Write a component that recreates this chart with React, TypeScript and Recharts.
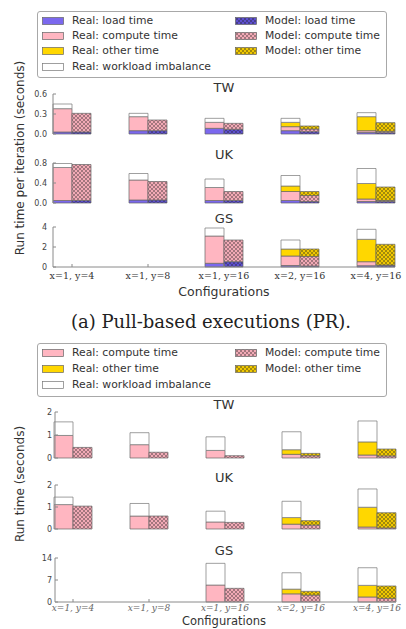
import React from "react";
import { Bar, BarChart, XAxis, YAxis } from "recharts";

const configs = ["x=1, y=4", "x=1, y=8", "x=1, y=16", "x=2, y=16", "x=4, y=16"];

// (a) pull-based executions, seconds per iteration
const twPullRealLoad = [0.03, 0.05, 0.085, 0.05, 0.025];
const twPullRealCompute = [0.35, 0.21, 0.09, 0.06, 0.025];
const twPullRealOther = [0, 0, 0, 0.065, 0.21];
const twPullRealImbalance = [0.07, 0.05, 0.06, 0.06, 0.06];
const twPullModelLoad = [0.03, 0.05, 0.07, 0.035, 0.02];
const twPullModelCompute = [0.28, 0.16, 0.09, 0.04, 0.02];
const twPullModelOther = [0, 0, 0, 0.045, 0.13];

const ukPullRealLoad = [0.05, 0.06, 0.05, 0.05, 0.03];
const ukPullRealCompute = [0.66, 0.4, 0.26, 0.18, 0.05];
const ukPullRealOther = [0, 0, 0, 0.11, 0.31];
const ukPullRealImbalance = [0.08, 0.13, 0.17, 0.21, 0.3];
const ukPullModelLoad = [0.05, 0.06, 0.05, 0.03, 0.03];
const ukPullModelCompute = [0.72, 0.37, 0.18, 0.12, 0.02];
const ukPullModelOther = [0, 0, 0, 0.08, 0.27];

const gsPullRealLoad = [0, 0, 0.37, 0.15, 0.13];
const gsPullRealCompute = [0, 0, 2.73, 0.95, 0.4];
const gsPullRealOther = [0, 0, 0, 0.7, 2.24];
const gsPullRealImbalance = [0, 0, 0.8, 0.9, 1.0];
const gsPullModelLoad = [0, 0, 0.53, 0.1, 0.15];
const gsPullModelCompute = [0, 0, 2.17, 0.95, 0.05];
const gsPullModelOther = [0, 0, 0, 0.75, 2.07];

// (b) push-based executions, seconds
const twPushRealCompute = [0.98, 0.58, 0.33, 0.16, 0.13];
const twPushRealOther = [0, 0, 0, 0.2, 0.57];
const twPushRealImbalance = [0.59, 0.52, 0.59, 0.78, 0.91];
const twPushModelCompute = [0.46, 0.25, 0.1, 0.1, 0.09];
const twPushModelOther = [0, 0, 0, 0.1, 0.3];

const ukPushRealCompute = [1.11, 0.59, 0.32, 0.22, 0.09];
const ukPushRealOther = [0, 0, 0, 0.3, 0.9];
const ukPushRealImbalance = [0.34, 0.57, 0.49, 0.74, 0.83];
const ukPushModelCompute = [1.04, 0.59, 0.3, 0.18, 0.05];
const ukPushModelOther = [0, 0, 0, 0.2, 0.69];

const gsPushRealCompute = [0, 0, 5.4, 2.6, 1.6];
const gsPushRealOther = [0, 0, 0, 1.5, 3.7];
const gsPushRealImbalance = [0, 0, 6.9, 5.2, 5.6];
const gsPushModelCompute = [0, 0, 4.35, 2.2, 1.15];
const gsPushModelOther = [0, 0, 0, 1.2, 3.95];

const zeros = configs.map(() => 0);

function makeRows(
  rl: number[], rc: number[], ro: number[], ri: number[],
  ml: number[], mc: number[], mo: number[]
) {
  return configs.map((name, i) => ({
    name, rl: rl[i], rc: rc[i], ro: ro[i], ri: ri[i], ml: ml[i], mc: mc[i], mo: mo[i],
  }));
}

const frame = "#8a8a8a";
const edge = "#666";
const sans = "'DejaVu Sans', sans-serif";
const serif = "'DejaVu Serif', serif";

const colors = {
  load: "#7b68ee",
  compute: "#ffb6c1",
  other: "#ffd700",
};

function Patterns() {
  const hatch = (id: string, base: string) => (
    <pattern id={id} width={4} height={4} patternUnits="userSpaceOnUse">
      <rect width={4} height={4} fill={base} />
      <path d="M0,0 L4,4 M4,0 L0,4" stroke="#222" strokeWidth={0.7} strokeOpacity={0.55} />
    </pattern>
  );
  return (
    <svg width={0} height={0} style={{ position: "absolute" }}>
      <defs>
        {hatch("hLoad", "#5d4fd0")}
        {hatch("hCompute", "#f2aab6")}
        {hatch("hOther", "#f0c800")}
      </defs>
    </svg>
  );
}

type PanelProps = {
  top: number;
  height: number;
  left: number;
  right: number;
  max: number;
  ticks: number[];
  data: ReturnType<typeof makeRows>;
  fmt: (v: number) => string;
  labels?: boolean;
  italic?: boolean;
  pad: { left: number; right: number };
};

function Panel({ top, height, left, right, max, ticks, data, fmt, labels, italic, pad }: PanelProps) {
  const mt = 6;
  const xh = labels ? 20 : 0;
  const mb = labels ? 1 : 6;
  const barProps = { isAnimationActive: false, stroke: edge, strokeWidth: 0.7 };
  return (
    <div style={{ position: "absolute", left: 0, top: top - mt }}>
      <BarChart
        width={406}
        height={mt + height + xh + mb}
        data={data}
        margin={{ top: mt, right: 406 - right, bottom: mb, left: 0 }}
        barGap={0}
        barSize={19}
      >
        <XAxis
          dataKey="name"
          padding={pad}
          height={xh}
          interval={0}
          axisLine={{ stroke: frame }}
          tickLine={{ stroke: frame }}
          tickSize={-3}
          tickMargin={italic ? 6 : 8}
          tick={
            labels
              ? { fontSize: italic ? 9 : 9.5, fontFamily: serif, fill: italic ? "#666" : "#333", fontStyle: italic ? "italic" : "normal" }
              : false
          }
        />
        <XAxis
          xAxisId="top"
          orientation="top"
          dataKey="name"
          padding={pad}
          height={0}
          interval={0}
          tick={false}
          tickSize={-3}
          axisLine={{ stroke: frame }}
          tickLine={{ stroke: frame }}
        />
        <YAxis
          domain={[0, max]}
          ticks={ticks}
          width={left}
          interval={0}
          tickFormatter={fmt}
          tickSize={-3}
          tickMargin={left > 53 ? 6 : 9}
          axisLine={{ stroke: frame }}
          tickLine={{ stroke: frame }}
          tick={{ fontSize: 8, fontFamily: sans, fill: "#444" }}
        />
        <YAxis
          yAxisId="right"
          orientation="right"
          domain={[0, max]}
          ticks={ticks}
          width={0}
          tick={false}
          tickSize={-3}
          axisLine={{ stroke: frame }}
          tickLine={{ stroke: frame }}
        />
        <Bar dataKey="rl" stackId="real" fill={colors.load} {...barProps} />
        <Bar dataKey="rc" stackId="real" fill={colors.compute} {...barProps} />
        <Bar dataKey="ro" stackId="real" fill={colors.other} {...barProps} />
        <Bar dataKey="ri" stackId="real" fill="#ffffff" {...barProps} stroke="#777" />
        <Bar dataKey="ml" stackId="model" fill="url(#hLoad)" {...barProps} />
        <Bar dataKey="mc" stackId="model" fill="url(#hCompute)" {...barProps} />
        <Bar dataKey="mo" stackId="model" fill="url(#hOther)" {...barProps} />
      </BarChart>
    </div>
  );
}

function Txt({ x, y, size, rotate, style, children }: any) {
  return (
    <div
      style={{
        position: "absolute",
        left: x,
        top: y,
        transform: `translate(-50%, -50%)${rotate ? " rotate(-90deg)" : ""}`,
        fontSize: size,
        fontFamily: sans,
        color: "#333",
        whiteSpace: "nowrap",
        lineHeight: 1,
        ...style,
      }}
    >
      {children}
    </div>
  );
}

type Entry = { label: string; fill: string; col: number; row: number; stroke?: string };

function LegendBox({ top, height, rowY, entries }: { top: number; height: number; rowY: number[]; entries: Entry[] }) {
  return (
    <>
      <div
        style={{
          position: "absolute",
          left: 37,
          top,
          width: 350,
          height,
          border: "1px solid #a8a8a8",
          borderRadius: 3,
          boxSizing: "border-box",
        }}
      />
      {entries.map((e) => {
        const sx = e.col === 0 ? 42 : 235;
        const tx = e.col === 0 ? 72 : 265;
        const y = rowY[e.row];
        return (
          <React.Fragment key={e.label}>
            <svg style={{ position: "absolute", left: sx, top: y - 4 }} width={22} height={8}>
              <rect x={0.5} y={0.5} width={21} height={7} fill={e.fill} stroke={e.stroke ?? edge} strokeWidth={0.7} />
            </svg>
            <div
              style={{
                position: "absolute",
                left: tx,
                top: y,
                transform: "translateY(-50%)",
                fontSize: 10.8,
                fontFamily: sans,
                color: "#333",
                whiteSpace: "nowrap",
                lineHeight: 1,
              }}
            >
              {e.label}
            </div>
          </React.Fragment>
        );
      })}
    </>
  );
}

const pullEntries: Entry[] = [
  { label: "Real: load time", fill: colors.load, col: 0, row: 0 },
  { label: "Model: load time", fill: "url(#hLoad)", col: 1, row: 0 },
  { label: "Real: compute time", fill: colors.compute, col: 0, row: 1 },
  { label: "Model: compute time", fill: "url(#hCompute)", col: 1, row: 1 },
  { label: "Real: other time", fill: colors.other, col: 0, row: 2 },
  { label: "Model: other time", fill: "url(#hOther)", col: 1, row: 2 },
  { label: "Real: workload imbalance", fill: "#ffffff", col: 0, row: 3, stroke: "#777" },
];

const pushEntries: Entry[] = [
  { label: "Real: compute time", fill: colors.compute, col: 0, row: 0 },
  { label: "Model: compute time", fill: "url(#hCompute)", col: 1, row: 0 },
  { label: "Real: other time", fill: colors.other, col: 0, row: 1 },
  { label: "Model: other time", fill: "url(#hOther)", col: 1, row: 1 },
  { label: "Real: workload imbalance", fill: "#ffffff", col: 0, row: 2, stroke: "#777" },
];

const f1 = (v: number) => v.toFixed(1);
const f0 = (v: number) => String(v);

export default function App() {
  const twPull = makeRows(twPullRealLoad, twPullRealCompute, twPullRealOther, twPullRealImbalance, twPullModelLoad, twPullModelCompute, twPullModelOther);
  const ukPull = makeRows(ukPullRealLoad, ukPullRealCompute, ukPullRealOther, ukPullRealImbalance, ukPullModelLoad, ukPullModelCompute, ukPullModelOther);
  const gsPull = makeRows(gsPullRealLoad, gsPullRealCompute, gsPullRealOther, gsPullRealImbalance, gsPullModelLoad, gsPullModelCompute, gsPullModelOther);
  const twPush = makeRows(zeros, twPushRealCompute, twPushRealOther, twPushRealImbalance, zeros, twPushModelCompute, twPushModelOther);
  const ukPush = makeRows(zeros, ukPushRealCompute, ukPushRealOther, ukPushRealImbalance, zeros, ukPushModelCompute, ukPushModelOther);
  const gsPush = makeRows(zeros, gsPushRealCompute, gsPushRealOther, gsPushRealImbalance, zeros, gsPushModelCompute, gsPushModelOther);

  const padA = { left: -19, right: -19 };
  const padB = { left: -20, right: -19 };

  return (
    <div style={{ position: "absolute", left: 0, top: 0, width: 406, height: 629, background: "#fff", overflow: "hidden" }}>
      <Patterns />

      {/* (a) pull-based */}
      <LegendBox top={11} height={67} rowY={[20.5, 35.5, 51, 66.5]} entries={pullEntries} />
      <Txt x={224} y={87} size={13}>TW</Txt>
      <Panel top={94} height={40} left={53} right={395} max={0.6} ticks={[0, 0.3, 0.6]} data={twPull} fmt={f1} pad={padA} />
      <Txt x={224} y={154} size={13}>UK</Txt>
      <Panel top={163} height={40} left={53} right={395} max={0.8} ticks={[0, 0.4, 0.8]} data={ukPull} fmt={f1} pad={padA} />
      <Txt x={224} y={218} size={13}>GS</Txt>
      <Panel top={227} height={40} left={53} right={395} max={4} ticks={[0, 2, 4]} data={gsPull} fmt={f0} pad={padA} labels />
      <Txt x={224} y={292} size={12.5}>Configurations</Txt>
      <Txt x={20} y={158} size={12} rotate>Run time per iteration (seconds)</Txt>
      <Txt x={211} y={322} size={18} style={{ fontFamily: serif, color: "#222" }}>
        (a) Pull-based executions (PR).
      </Txt>

      {/* (b) push-based */}
      <LegendBox top={343} height={54} rowY={[353, 369, 385]} entries={pushEntries} />
      <Txt x={224} y={404} size={13}>TW</Txt>
      <Panel top={412} height={46} left={55} right={396} max={2} ticks={[0, 1, 2]} data={twPush} fmt={f0} pad={padB} />
      <Txt x={224} y={477} size={13}>UK</Txt>
      <Panel top={485} height={44} left={55} right={396} max={2} ticks={[0, 1, 2]} data={ukPush} fmt={f0} pad={padB} />
      <Txt x={224} y={550} size={13}>GS</Txt>
      <Panel top={558} height={44} left={55} right={396} max={14} ticks={[0, 7, 14]} data={gsPush} fmt={f0} pad={padB} labels italic />
      <Txt x={224} y={622} size={11.5}>Configurations</Txt>
      <Txt x={20} y={484} size={12} rotate>Run time (seconds)</Txt>
    </div>
  );
}
